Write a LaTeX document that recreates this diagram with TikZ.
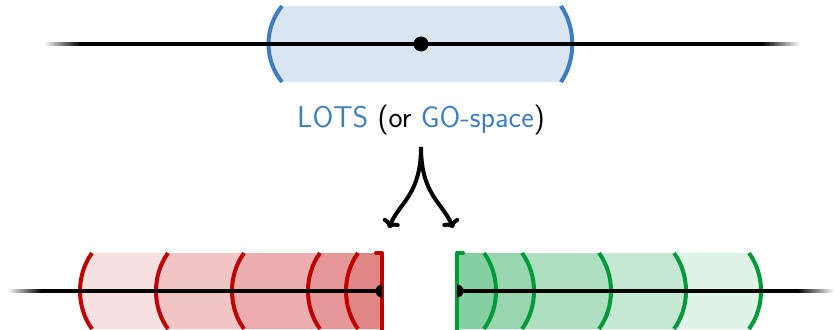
\documentclass[tikz,border=0pt]{standalone}
\usepackage{fontspec}
\usetikzlibrary{arrows.meta}
\definecolor{lotsblue}{RGB}{61,125,192}
\definecolor{lotsfill}{RGB}{217,229,241}
\definecolor{upred}{RGB}{192,0,0}
\definecolor{upgreen}{RGB}{0,154,58}
\tikzset{
  axis/.style={line width=3.4pt, black},
  rim/.style={line width=4pt},
  fork/.style={line width=4pt, -{To[length=8pt,width=18pt,line width=4pt]}},
  label/.style={font=\sffamily\fontsize{30}{36}\selectfont, inner sep=0pt},
  veil/.style={fill opacity=0.12},
}
% left-bulging arc whose apex sits at x=#1 on the lower axis
\newcommand{\leftarcpath}[1]{(#1+12,253) .. controls (#1-4,275) and (#1-4,307) .. (#1+12,329)}
% right-bulging arc whose apex sits at x=#1 on the lower axis
\newcommand{\rightarcpath}[1]{(#1-12,253) .. controls (#1+4,275) and (#1+4,307) .. (#1-12,329)}
\begin{document}
\begin{tikzpicture}[x=1pt,y=-1pt]
\useasboundingbox (0,0) rectangle (834,329);

% ---- upper line with the blue neighbourhood ----
\fill[lotsfill] (282,6) .. controls (264,28) and (264,60) .. (282,82)
  -- (561,82) .. controls (576,60) and (576,28) .. (561,6) -- cycle;
\draw[rim, lotsblue] (282,6) .. controls (264,28) and (264,60) .. (282,82);
\draw[rim, lotsblue] (561,6) .. controls (576,28) and (576,60) .. (561,82);
\coordinate (ta) at (80,44);
\coordinate (tb) at (762,44);
\shade[left color=white, right color=black] (44,42.3) rectangle (80,45.7);
\shade[left color=black, right color=white] (762,42.3) rectangle (800,45.7);
\draw[axis] (ta) -- (tb);
\node[circle, fill=black, inner sep=0pt, minimum size=15pt] (pt) at (421,44) {};

% ---- caption and forked arrows ----
\node[label, anchor=base] (lots) at (421,127)
  {\textcolor{lotsblue}{LOTS} (or \textcolor{lotsblue}{GO-space})};
\coordinate (split) at (421,147);
\coordinate (lt) at (389,228);
\coordinate (rt) at (453,228);
\draw[fork] (split) .. controls (421,195) and (399,203) .. (lt);
\draw[fork] (split) .. controls (421,195) and (443,203) .. (rt);

% ---- lower left: red nested half-neighbourhoods ----
\foreach \a in {80,156,232,308,346}
  \fill[upred, veil] \leftarcpath{\a} -- (382,329) -- (382,253) -- cycle;
\foreach \a in {80,156,232,308,346}
  \draw[rim, upred] \leftarcpath{\a};
\draw[rim, upred, line join=round, line cap=round] (376,253) -- (382,253) -- (382,334);

% ---- lower right: green nested half-neighbourhoods ----
\foreach \b in {496,534,611,686,761}
  \fill[upgreen, veil] \rightarcpath{\b} -- (457,329) -- (457,253) -- cycle;
\foreach \b in {496,534,611,686,761}
  \draw[rim, upgreen] \rightarcpath{\b};
\draw[rim, upgreen, line join=round, line cap=round] (463,253) -- (457,253) -- (457,334);

% ---- lower axes ----
\coordinate (la) at (42,291);
\coordinate (lb) at (382,291);
\coordinate (ra) at (457,291);
\coordinate (rb) at (797,291);
\shade[left color=white, right color=black] (7,289.3) rectangle (42,292.7);
\shade[left color=black, right color=white] (797,289.3) rectangle (834,292.7);
\draw[axis] (la) -- (lb);
\draw[axis] (ra) -- (rb);
\fill[black] (lb) ++(0,-6.5) arc[start angle=90, end angle=270, radius=6.5pt] -- cycle;
\fill[black] (ra) ++(0,-6.5) arc[start angle=90, end angle=-90, radius=6.5pt] -- cycle;
\end{tikzpicture}
\end{document}
